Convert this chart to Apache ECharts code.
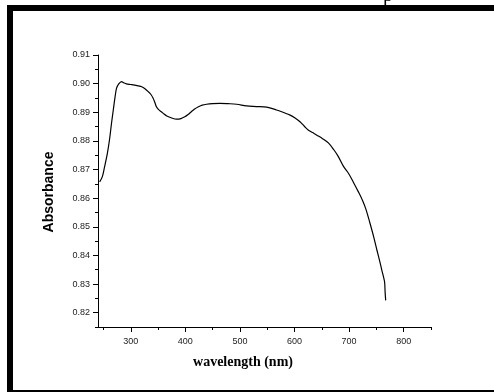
<!DOCTYPE html>
<html>
<head>
<meta charset="utf-8">
<script src="https://cdn.jsdelivr.net/npm/echarts@6/dist/echarts.min.js"></script>
<style>
  html, body { margin: 0; padding: 0; background: #fff; }
  #chart { width: 494px; height: 392px; }
</style>
</head>
<body>
<div id="chart"></div>
<script>
// wavelength (nm) and absorbance
var wavelength = [243, 248, 252, 257, 261, 265, 268, 271, 274, 278, 283, 287, 292, 300, 307, 314, 320, 326, 332, 337,
  341, 344, 347, 351, 356, 361, 366, 375, 384, 392, 399, 405, 411, 417, 424, 431, 439, 450, 463, 478,
  494, 512, 530, 549, 567, 580, 592, 601, 610, 618, 625, 633, 641, 652, 662, 672, 680, 690, 699, 708,
  717, 725, 731, 738, 745, 751, 756, 760, 763, 765, 766, 767];
var absorbance = [0.8657, 0.8675, 0.8709, 0.8755, 0.8803, 0.8865, 0.8908, 0.8950, 0.8984, 0.8999, 0.9007, 0.9003, 0.8999, 0.8997, 0.8995, 0.8992, 0.8989, 0.8982, 0.8972, 0.8962,
  0.8949, 0.8935, 0.8919, 0.8909, 0.8902, 0.8894, 0.8887, 0.8880, 0.8876, 0.8878, 0.8884, 0.8892, 0.8902, 0.8911, 0.8919, 0.8925, 0.8928, 0.8930, 0.8931, 0.8930,
  0.8928, 0.8922, 0.8920, 0.8918, 0.8908, 0.8899, 0.8890, 0.8880, 0.8867, 0.8851, 0.8838, 0.8829, 0.8820, 0.8807, 0.8793, 0.8769, 0.8746, 0.8710, 0.8686, 0.8655,
  0.8622, 0.8590, 0.8560, 0.8514, 0.8465, 0.8418, 0.8380, 0.8348, 0.8325, 0.8307, 0.8270, 0.8243];

var xLabels = [300, 400, 500, 600, 700, 800];
var xMinor = [250, 350, 450, 550, 650, 750, 850];
var yLabels = [0.82, 0.83, 0.84, 0.85, 0.86, 0.87, 0.88, 0.89, 0.90, 0.91];
var yMinor = [0.815, 0.825, 0.835, 0.845, 0.855, 0.865, 0.875, 0.885, 0.895, 0.905];

var points = wavelength.map(function (w, i) { return [w, absorbance[i]]; });

var myChart = echarts.init(document.getElementById('chart'));

var tickFont = { fontFamily: 'Liberation Sans', fontSize: 9, color: '#222' };

var option = {
  animation: false,
  grid: { left: 98, top: 55, width: 333, height: 272 },
  xAxis: [
    {
      type: 'value', min: 240, max: 850,
      axisLine: { show: true, lineStyle: { color: '#000', width: 1 } },
      axisTick: { show: true, customValues: xLabels, length: 5, lineStyle: { color: '#000' } },
      axisLabel: Object.assign({ customValues: xLabels, margin: 10 }, tickFont),
      splitLine: { show: false }
    },
    {
      type: 'value', min: 240, max: 850, position: 'bottom',
      axisLine: { show: false },
      axisTick: { show: true, customValues: xMinor, length: 3, lineStyle: { color: '#000' } },
      axisLabel: { show: false },
      splitLine: { show: false }
    }
  ],
  yAxis: [
    {
      type: 'value', min: 0.815, max: 0.91,
      axisLine: { show: true, lineStyle: { color: '#000', width: 1 } },
      axisTick: { show: true, customValues: yLabels, length: 5, lineStyle: { color: '#000' } },
      axisLabel: Object.assign({
        customValues: yLabels, margin: 8,
        formatter: function (v) { return v.toFixed(2); }
      }, tickFont),
      splitLine: { show: false }
    },
    {
      type: 'value', min: 0.815, max: 0.91, position: 'left',
      axisLine: { show: false },
      axisTick: { show: true, customValues: yMinor, length: 3, lineStyle: { color: '#000' } },
      axisLabel: { show: false },
      splitLine: { show: false }
    }
  ],
  series: [
    {
      type: 'line',
      data: points,
      showSymbol: false,
      smooth: 0.35,
      lineStyle: { color: '#000', width: 1.2 }
    }
  ],
  graphic: [
    // clipped caption letter above the frame
    { type: 'text', left: 383, top: -14, style: { text: 'p', font: '20px "Liberation Serif"', fill: '#000' } },
    // frame
    { type: 'rect', shape: { x: 7, y: 5, width: 487, height: 6 }, style: { fill: '#000' } },
    { type: 'rect', shape: { x: 7, y: 5, width: 6, height: 387 }, style: { fill: '#000' } },
    { type: 'rect', shape: { x: 7, y: 390, width: 487, height: 2 }, style: { fill: '#000' } },
    // axis titles
    {
      type: 'text', x: 49, y: 192, rotation: Math.PI / 2,
      style: { text: 'Absorbance', font: 'bold 14px "Liberation Sans"', fill: '#000', align: 'center', verticalAlign: 'middle' }
    },
    {
      type: 'text', x: 243, y: 362,
      style: { text: 'wavelength (nm)', font: 'bold 14px "Liberation Serif"', fill: '#000', align: 'center', verticalAlign: 'middle' }
    }
  ]
};

myChart.setOption(option);
</script>
</body>
</html>
